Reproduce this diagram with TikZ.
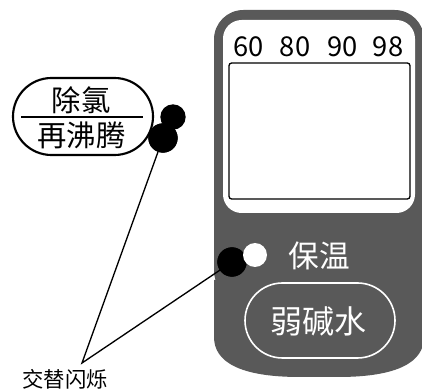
\documentclass[tikz,border=0pt]{standalone}
\usepackage{fontspec}
\setmainfont{Noto Sans CJK SC}
\usetikzlibrary{positioning, calc, shapes.misc}
\definecolor{panelgray}{RGB}{89,89,89}

\begin{document}
\begin{tikzpicture}[x=0.75pt, y=-0.75pt,
	dot/.style={circle, inner sep=0pt, minimum size=#1},
	pill/.style={rounded rectangle, inner sep=0pt}]
	\useasboundingbox (0,0) rectangle (422,392);

	% panel
	\fill[panelgray, rounded corners=22] (214,10) rectangle (424,300);
	\fill[panelgray] (214,280) -- (214,337)
		.. controls (214,362) and (240,377) .. (300,377)
		-- (338,377)
		.. controls (398,377) and (424,362) .. (424,337) -- (424,280) -- cycle;
	\fill[white, rounded corners=14] (223,20) rectangle (415,213);
	\draw[line width=1pt, rounded corners=2] (229,63) rectangle (410,199);

	\foreach \num/\xpos in {60/248.5, 80/295, 90/342.5, 98/388}
		\node[anchor=base, font=\fontsize{20.5}{21}\selectfont, inner sep=0pt] (temp\num) at (\xpos,57) {\num};

	\coordinate (blink) at (82,363);

	\node[dot=22, fill=black] (dechlor) at (163,138) {};
	\node[dot=22, fill=black] (warmdot) at (232,262) {};
	\draw[line width=1pt] (dechlor.center) -- (blink) -- (warmdot.center);
	\node[dot=22, fill=black] at (163,138) {};
	\node[dot=22, fill=black] at (232,262) {};
	\node[dot=19, fill=black] (boil) at (173,117) {};
	\node[dot=18, fill=white] (keep) at (255,255) {};

	\node[text=white, font=\fontsize{23}{24}\selectfont, inner sep=0pt] (keeplabel) at (319,256) {保温};

	\node[pill, draw=white, line width=1.2pt, minimum width=112.5pt, minimum height=56.25pt] (alkalinebtn) at (320,320.5) {};
	\node[text=white, font=\fontsize{24}{25}\selectfont, inner sep=0pt] (alkaline) at (318.5,321.5) {弱碱水};

	% left button
	\node[pill, draw, line width=1.6pt, minimum width=105pt, minimum height=57.75pt] (leftbtn) at (83,116.5) {};
	\draw[line width=1pt] (21,117) -- (143,117);
	\node[font=\fontsize{22}{23}\selectfont, inner sep=0pt] (dechlorlabel) at (81,100.5) {除氯};
	\node[font=\fontsize{22}{23}\selectfont, inner sep=0pt] (boillabel) at (81.5,135) {再沸腾};

	\node[font=\fontsize{16}{17}\selectfont, inner sep=0pt] (blinklabel) at (65,379.5) {交替闪烁};
\end{tikzpicture}
\end{document}
